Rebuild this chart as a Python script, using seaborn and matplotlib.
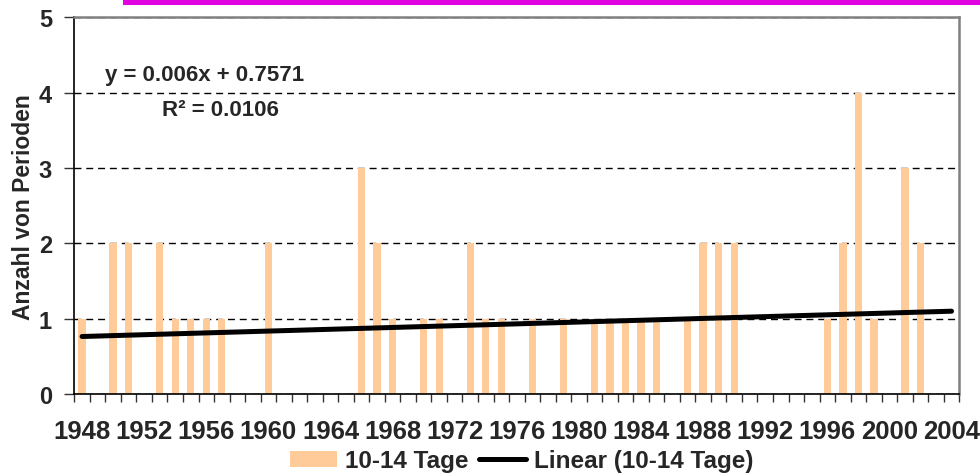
import numpy as np
import matplotlib
matplotlib.use("Agg")
import matplotlib.pyplot as plt
import seaborn as sns
from matplotlib.patches import Rectangle, Patch
from matplotlib.lines import Line2D

# -------------------------------------------
# Data: number of 10-14 day periods per year
# -------------------------------------------
years = list(range(1948, 2005))
periods = [1, 0, 2, 2, 0, 2, 1, 1, 1, 1,      # 1948-1957
           0, 0, 2, 0, 0, 0, 0, 0, 3, 2,      # 1958-1967
           1, 0, 1, 1, 0, 2, 1, 1, 0, 1,      # 1968-1977
           0, 1, 0, 1, 1, 1, 1, 1, 0, 1,      # 1978-1987
           2, 2, 2, 0, 0, 0, 0, 0, 1, 2,      # 1988-1997
           4, 1, 0, 3, 2, 0, 0]               # 1998-2004
label_years = list(range(1948, 2005, 4))

# Excel linear trendline (x = 1, 2, 3, ...)
trend_slope = 0.006
trend_intercept = 0.7571
trend_r2 = 0.0106

bar_color = "#FFCC99"

sns.set_style("white")
plt.rcParams["font.family"] = ["Liberation Sans", "DejaVu Sans"]
plt.rcParams["font.weight"] = "bold"

W, H = 980, 477
fig = plt.figure(figsize=(9.8, 4.77), dpi=100)
ax = fig.add_axes([74.3 / W, 1 - 395 / H, (959.3 - 74.3) / W, (395 - 18.3) / H])

# magenta title strip at the very top
fig.patches.append(Rectangle((123 / W, 1 - 6 / H), 1, 6 / H,
                             transform=fig.transFigure, color="#E000E0", lw=0))

year_labels = [str(y) for y in years]
sns.barplot(x=year_labels, y=periods, order=year_labels, color=bar_color,
            width=0.47, saturation=1, linewidth=0, ax=ax, zorder=2)

# trendline
idx = np.arange(1, len(years) + 1)
trend = trend_slope * idx + trend_intercept
ax.plot(idx - 1, trend, color="black", lw=3.6, solid_capstyle="round", zorder=4)

ax.set_xlim(-0.5, len(years) - 0.5)
ax.set_ylim(0, 5)

# x axis: labels every 4 years, tick marks between categories
ax.set_xticks([years.index(y) for y in label_years])
ax.set_xticklabels([str(y) for y in label_years], fontsize=18.5, fontweight="bold")
ax.set_xticks(np.arange(-0.5, len(years)), minor=True)
ax.tick_params(axis="x", which="major", length=0, pad=18)
ax.tick_params(axis="x", which="minor", length=6, width=1, color="#333333",
               direction="out", bottom=True)

ax.set_yticks(range(0, 6))
ax.set_yticklabels([str(v) for v in range(0, 6)], fontsize=17, fontweight="bold")
ax.tick_params(axis="y", which="major", length=7, width=1, color="#333333",
               direction="out", left=True, pad=9)

ax.set_xlabel("")
ax.set_ylabel("Anzahl von Perioden", fontsize=16.5, fontweight="bold", labelpad=3)

ax.yaxis.grid(True, color="black", linestyle=(0, (5, 3.5)), lw=1)
ax.xaxis.grid(False)
ax.set_axisbelow(True)

for side in ["left", "bottom"]:
    ax.spines[side].set_color("black")
    ax.spines[side].set_linewidth(1.2)
for side in ["top", "right"]:
    ax.spines[side].set_color("#808080")
    ax.spines[side].set_linewidth(1.8)

# trendline equation
fig.text(205 / W, 1 - 75 / H, f"y = {trend_slope}x + {trend_intercept}",
         fontsize=16, fontweight="bold", ha="center", va="center")
fig.text(220 / W, 1 - 110 / H, f"R² = {trend_r2}",
         fontsize=16, fontweight="bold", ha="center", va="center")

handles = [Patch(facecolor=bar_color, edgecolor="none"),
           Line2D([0], [0], color="black", lw=3.6)]
fig.legend(handles, ["10-14 Tage", "Linear (10-14 Tage)"], loc="center",
           bbox_to_anchor=(522 / W, 1 - 462 / H), ncol=2, frameon=False,
           prop={"size": 17.5, "weight": "bold"}, handlelength=1.9,
           handleheight=0.64, handletextpad=0.35, columnspacing=0.45)

fig.savefig("out.png", dpi=100)
